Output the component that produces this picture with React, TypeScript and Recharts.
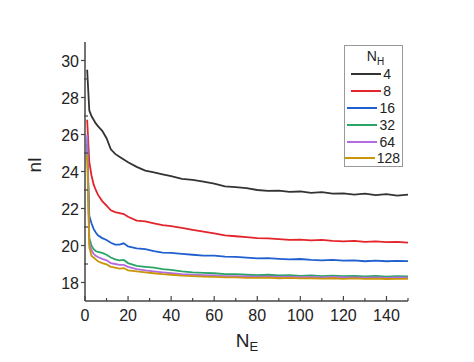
import { Line, LineChart, XAxis, YAxis } from "recharts";

const neValues = [1, 2, 3, 4, 5, 6, 8, 10, 12, 14, 16, 18, 20, 24, 28, 32, 36, 40, 45, 50, 55, 60, 65, 70, 75, 80, 85, 90, 95, 100, 105, 110, 115, 120, 125, 130, 135, 140, 145, 150];

const nl4 = [29.5, 27.3, 27.0, 26.8, 26.6, 26.45, 26.2, 25.8, 25.2, 24.95, 24.8, 24.65, 24.5, 24.25, 24.05, 23.95, 23.85, 23.75, 23.6, 23.55, 23.45, 23.35, 23.2, 23.15, 23.1, 23.0, 22.95, 22.97, 22.9, 22.92, 22.85, 22.88, 22.8, 22.82, 22.75, 22.8, 22.72, 22.78, 22.7, 22.75];
const nl8 = [26.8, 24.5, 23.8, 23.3, 23.0, 22.75, 22.4, 22.15, 21.9, 21.8, 21.75, 21.7, 21.55, 21.35, 21.3, 21.2, 21.1, 21.05, 20.95, 20.85, 20.75, 20.65, 20.55, 20.5, 20.45, 20.4, 20.38, 20.35, 20.3, 20.32, 20.28, 20.3, 20.25, 20.22, 20.25, 20.2, 20.22, 20.18, 20.2, 20.15];
const nl16 = [25.5, 21.6, 21.2, 20.9, 20.7, 20.55, 20.4, 20.3, 20.15, 20.05, 20.05, 20.12, 19.95, 19.85, 19.8, 19.7, 19.62, 19.6, 19.55, 19.5, 19.45, 19.45, 19.4, 19.38, 19.35, 19.3, 19.32, 19.28, 19.25, 19.27, 19.22, 19.2, 19.22, 19.18, 19.2, 19.15, 19.18, 19.15, 19.17, 19.15];
const nl32 = [25.8, 20.4, 20.0, 19.8, 19.7, 19.65, 19.6, 19.5, 19.35, 19.25, 19.2, 19.22, 19.05, 18.9, 18.85, 18.8, 18.72, 18.68, 18.6, 18.55, 18.52, 18.5, 18.45, 18.45, 18.42, 18.4, 18.42, 18.38, 18.4, 18.36, 18.38, 18.35, 18.37, 18.34, 18.36, 18.33, 18.35, 18.32, 18.34, 18.33];
const nl64 = [26.0, 20.1, 19.75, 19.55, 19.45, 19.38, 19.28, 19.2, 19.05, 19.0, 18.95, 18.95, 18.85, 18.72, 18.65, 18.6, 18.55, 18.5, 18.45, 18.42, 18.4, 18.38, 18.35, 18.35, 18.33, 18.32, 18.33, 18.3, 18.32, 18.29, 18.3, 18.28, 18.3, 18.27, 18.28, 18.26, 18.28, 18.25, 18.27, 18.26];
const nl128 = [24.9, 19.9, 19.45, 19.35, 19.25, 19.15, 19.05, 18.98, 18.85, 18.8, 18.75, 18.78, 18.66, 18.6, 18.55, 18.5, 18.45, 18.42, 18.37, 18.35, 18.32, 18.3, 18.28, 18.28, 18.25, 18.25, 18.26, 18.23, 18.25, 18.22, 18.23, 18.21, 18.23, 18.2, 18.22, 18.2, 18.21, 18.19, 18.2, 18.2];

const seriesNames = ["4", "8", "16", "32", "64", "128"];
const seriesValues = [nl4, nl8, nl16, nl32, nl64, nl128];
const seriesColors = ["#333333", "#e3242b", "#1f5fcf", "#2aa566", "#b36be0", "#c9960a"];

const xTicks = [0, 10, 20, 30, 40, 50, 60, 70, 80, 90, 100, 110, 120, 130, 140, 150];
const yTicks = [18, 19, 20, 21, 22, 23, 24, 25, 26, 27, 28, 29, 30];

const data = neValues.map((ne, i) => {
  const row: Record<string, number> = { ne };
  seriesNames.forEach((name, k) => {
    row["n" + name] = seriesValues[k][i];
  });
  return row;
});

const font = "'Liberation Sans', Arial, sans-serif";
const frame = "#444";

function XTick({ x, y, payload }: any) {
  const major = payload.value % 20 === 0;
  return (
    <g>
      <line x1={x} x2={x} y1={y} y2={y - (major ? 5 : 3)} stroke={frame} strokeWidth={1.2} />
      {major && (
        <text x={x} y={y + 20} textAnchor="middle" fontSize={16} fill="#222" fontFamily={font}>
          {payload.value}
        </text>
      )}
    </g>
  );
}

function YTick({ x, y, payload }: any) {
  const major = payload.value % 2 === 0;
  return (
    <g>
      {major ? (
        <line x1={x} x2={x - 4} y1={y} y2={y} stroke={frame} strokeWidth={1.2} />
      ) : (
        <line x1={x - 1} x2={x + 3} y1={y} y2={y} stroke={frame} strokeWidth={1.2} />
      )}
      {major && (
        <text x={x - 6} y={y + 6} textAnchor="end" fontSize={16} fill="#222" fontFamily={font}>
          {payload.value}
        </text>
      )}
    </g>
  );
}

function LegendBox() {
  return (
    <div
      style={{
        position: "absolute",
        left: 344,
        top: 45,
        border: "1px solid #999",
        background: "#fff",
        width: 59,
        height: 122,
        fontFamily: font,
        fontSize: 14,
        color: "#222",
        boxSizing: "border-box",
      }}
    >
      <div style={{ textAlign: "center", height: 20, lineHeight: "20px", paddingLeft: 4 }}>
        N<sub style={{ fontSize: 10 }}>H</sub>
      </div>
      {seriesNames.map((name, k) => (
        <div
          key={name}
          style={{
            display: "flex",
            alignItems: "center",
            justifyContent: "flex-end",
            height: 16.8,
            paddingRight: name === "128" ? 2 : name.length === 1 ? 11 : 7,
          }}
        >
          <span style={{ display: "inline-block", width: 30, height: 2, background: seriesColors[k], marginRight: 2 }} />
          <span>{name}</span>
        </div>
      ))}
    </div>
  );
}

export default function App() {
  return (
    <div style={{ position: "absolute", left: 0, top: 0, width: 474, height: 362, background: "#fff" }}>
      <LineChart width={474} height={362} data={data} margin={{ top: 42, right: 66, bottom: 0, left: 30 }}>
        <XAxis
          dataKey="ne"
          type="number"
          domain={[0, 150]}
          ticks={xTicks}
          interval={0}
          allowDataOverflow
          tickSize={0}
          tickMargin={0}
          tickLine={false}
          tick={<XTick />}
          height={61}
          axisLine={{ stroke: frame, strokeWidth: 1.5 }}
        />
        <XAxis
          xAxisId="top"
          orientation="top"
          type="number"
          domain={[0, 150]}
          tick={false}
          tickLine={false}
          height={0}
          axisLine={{ stroke: frame, strokeWidth: 1.5 }}
        />
        <YAxis
          type="number"
          domain={[17, 31]}
          ticks={yTicks}
          interval={0}
          allowDataOverflow
          tickSize={0}
          tickMargin={0}
          tickLine={false}
          tick={<YTick />}
          width={55}
          axisLine={{ stroke: frame, strokeWidth: 1.5 }}
        />
        <YAxis
          yAxisId="right"
          orientation="right"
          type="number"
          domain={[17, 31]}
          tick={false}
          tickLine={false}
          width={0}
          axisLine={{ stroke: frame, strokeWidth: 1.5 }}
        />
        {seriesNames.map((name, k) => (
          <Line
            key={name}
            dataKey={"n" + name}
            name={name}
            stroke={seriesColors[k]}
            strokeWidth={1.8}
            dot={false}
            type="linear"
            isAnimationActive={false}
          />
        ))}
      </LineChart>
      <LegendBox />
      <div
        style={{
          position: "absolute",
          left: 35,
          top: 165,
          transform: "translate(-50%, -50%) rotate(-90deg)",
          fontFamily: font,
          fontSize: 19,
          color: "#222",
        }}
      >
        nl
      </div>
      <div
        style={{
          position: "absolute",
          left: 247,
          top: 342,
          transform: "translate(-50%, -50%)",
          fontFamily: font,
          fontSize: 19,
          color: "#222",
          whiteSpace: "nowrap",
        }}
      >
        N<sub style={{ fontSize: 13 }}>E</sub>
      </div>
    </div>
  );
}
